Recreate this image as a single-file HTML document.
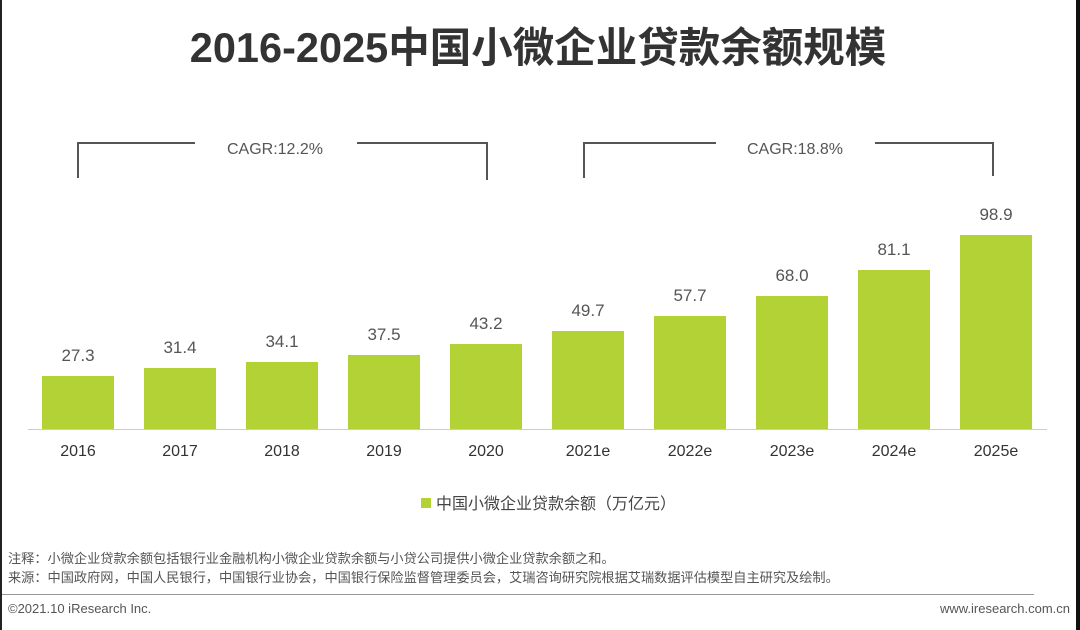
<!DOCTYPE html>
<html><head><meta charset="utf-8"><style>
html,body{margin:0;padding:0;background:#fff}
svg{display:block}
text{font-family:"Liberation Sans","Noto Sans CJK SC",sans-serif}
</style></head><body>
<svg width="1080" height="630" viewBox="0 0 1080 630" xmlns="http://www.w3.org/2000/svg">
<rect x="0" y="0" width="1080" height="630" fill="#fff"/>
<rect x="0" y="0" width="2" height="630" fill="#222"/>
<rect x="1076" y="0" width="4" height="630" fill="#111"/>
<text x="538" y="62" text-anchor="middle" font-size="41.5" font-weight="bold" fill="#333">2016-2025中国小微企业贷款余额规模</text>
<g stroke="#555" stroke-width="2" fill="none">
<path d="M78 178 V143 H195 M357 143 H487 V180"/>
<path d="M584 178 V143 H716 M875 143 H993 V176"/>
</g>
<g font-size="16" fill="#555" text-anchor="middle">
<text x="275" y="154">CAGR:12.2%</text>
<text x="795" y="154">CAGR:18.8%</text>
</g>
<line x1="28" y1="429.5" x2="1047" y2="429.5" stroke="#ccc" stroke-width="1"/>
<g fill="#b2d235">
<rect x="42" y="376" width="72" height="53"/>
<rect x="144" y="368" width="72" height="61"/>
<rect x="246" y="362" width="72" height="67"/>
<rect x="348" y="355" width="72" height="74"/>
<rect x="450" y="344" width="72" height="85"/>
<rect x="552" y="331" width="72" height="98"/>
<rect x="654" y="316" width="72" height="113"/>
<rect x="756" y="296" width="72" height="133"/>
<rect x="858" y="270" width="72" height="159"/>
<rect x="960" y="235" width="72" height="194"/>
</g>
<g font-size="17" fill="#555" text-anchor="middle">
<text x="78" y="361">27.3</text>
<text x="180" y="353">31.4</text>
<text x="282" y="347">34.1</text>
<text x="384" y="340">37.5</text>
<text x="486" y="329">43.2</text>
<text x="588" y="316">49.7</text>
<text x="690" y="301">57.7</text>
<text x="792" y="281">68.0</text>
<text x="894" y="255">81.1</text>
<text x="996" y="220">98.9</text>
</g>
<g font-size="16" fill="#333" text-anchor="middle">
<text x="78" y="456">2016</text>
<text x="180" y="456">2017</text>
<text x="282" y="456">2018</text>
<text x="384" y="456">2019</text>
<text x="486" y="456">2020</text>
<text x="588" y="456">2021e</text>
<text x="690" y="456">2022e</text>
<text x="792" y="456">2023e</text>
<text x="894" y="456">2024e</text>
<text x="996" y="456">2025e</text>
</g>
<rect x="421" y="498" width="10" height="10" fill="#b2d235"/>
<text x="436" y="509" font-size="16" fill="#444">中国小微企业贷款余额（万亿元）</text>
<g font-size="13.2" fill="#555">
<text x="8" y="563">注释：小微企业贷款余额包括银行业金融机构小微企业贷款余额与小贷公司提供小微企业贷款余额之和。</text>
<text x="8" y="582">来源：中国政府网，中国人民银行，中国银行业协会，中国银行保险监督管理委员会，艾瑞咨询研究院根据艾瑞数据评估模型自主研究及绘制。</text>
</g>
<line x1="2" y1="594.5" x2="1034" y2="594.5" stroke="#999" stroke-width="1"/>
<g font-size="13" fill="#555">
<text x="8" y="613">©2021.10 iResearch Inc.</text>
<text x="1070" y="613" text-anchor="end">www.iresearch.com.cn</text>
</g>
</svg>
</body></html>
